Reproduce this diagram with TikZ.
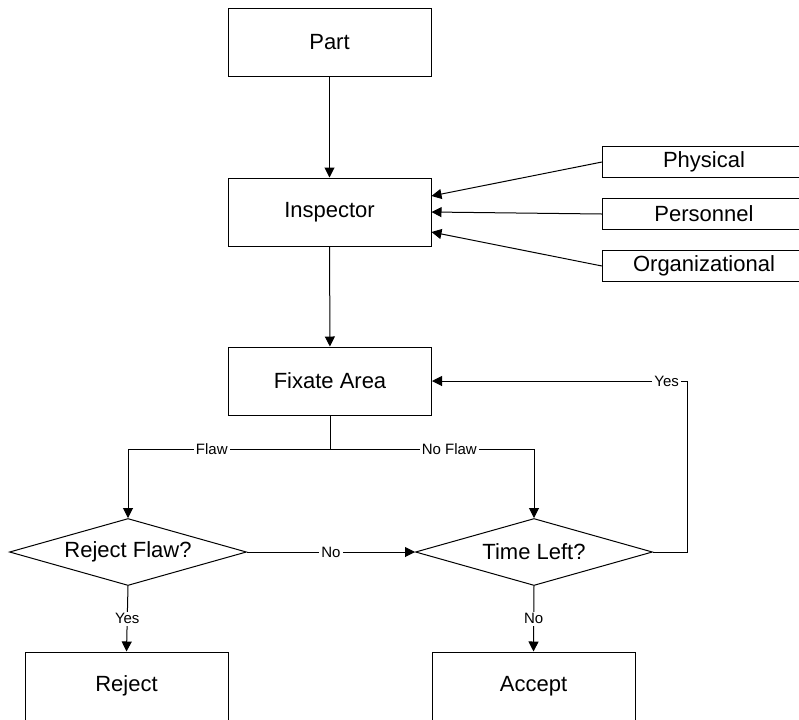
\documentclass[tikz,border=0pt]{standalone}
\usepackage{fontspec}
\setmainfont{Liberation Sans}
\usetikzlibrary{shapes.geometric,arrows.meta}

\begin{document}
\begin{tikzpicture}[x=0.5pt,y=-0.5pt,line width=0.5pt,
  >={Triangle[length=5pt,width=5pt]},
  box/.style={draw,rectangle,minimum width=101.5pt,minimum height=34pt,inner sep=0pt,
    font=\fontsize{11}{13}\selectfont},
  sidebox/.style={box,minimum height=15.5pt},
  decision/.style={draw,diamond,aspect=3.5,minimum width=118.5pt,minimum height=33.5pt,
    inner sep=0pt,font=\fontsize{11}{13}\selectfont},
  lbl/.style={fill=white,inner sep=1pt,font=\fontsize{7.5}{9}\selectfont}]
\clip (0,0) rectangle (799,719);

% main column
\node [box] (part) at (329.5,42.5) {Part};
\node [box] (insp) at (329.5,212) {Inspector};
\node [box] (fix) at (330,381) {Fixate Area};

% factors
\node [sidebox] (phys) at (704,162) {Physical};
\node [sidebox] (pers) at (704,214) {Personnel};
\node [sidebox] (org) at (704,266) {Organizational};

% decisions
\node [decision] (rflaw) at (128,552) {Reject Flaw?};
\node [decision] (tleft) at (534,552) {Time Left?};
\node [box] (reject) at (126.5,686) {Reject};
\node [box] (accept) at (533.5,686) {Accept};

\draw [->] (part) -- (insp);
\draw [->] (insp) -- (fix);
\draw [->] (phys.west) -- ([yshift=8pt]insp.east);
\draw [->] (pers.west) -- (insp.east);
\draw [->] (org.west) -- ([yshift=-10pt]insp.east);

\draw (fix.south) -- ++(0,34) coordinate (split);
\draw [->] (split) -- node [lbl,pos=0.585] {Flaw} (split -| rflaw.north) -- (rflaw.north);
\draw [->] (split) -- node [lbl,pos=0.585] {No Flaw} (split -| tleft.north) -- (tleft.north);
\draw [->] (rflaw.east) -- node [lbl] {No} (tleft.west);
\draw [->] (tleft.east) -- ++(34,0) |- node [lbl,pos=0.54] {Yes} (fix.east);
\draw [->] (rflaw.south) -- node [lbl] {Yes} (reject.north);
\draw [->] (tleft.south) -- node [lbl] {No} (accept.north);
\end{tikzpicture}
\end{document}
